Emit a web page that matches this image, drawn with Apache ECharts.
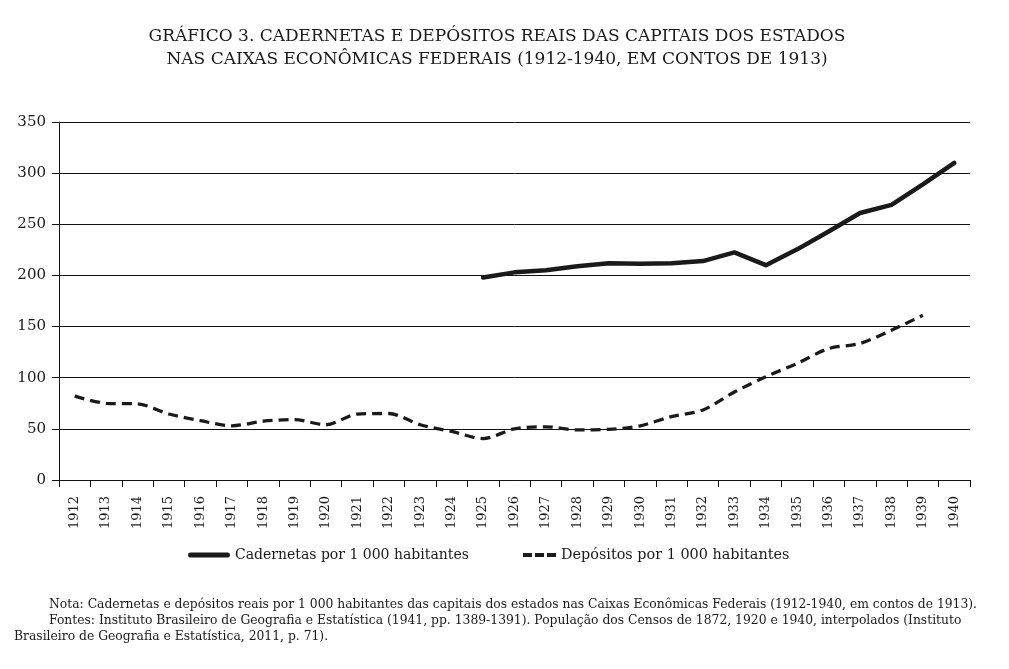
<!DOCTYPE html>
<html>
<head>
<meta charset="utf-8">
<script src="https://cdn.jsdelivr.net/npm/echarts@6/dist/echarts.min.js"></script>
<style>
html,body{margin:0;padding:0;background:#fff;}
#c{width:1009px;height:669px;}
</style>
</head>
<body>
<div id="c"></div>
<script>
var years = ['1912','1913','1914','1915','1916','1917','1918','1919','1920','1921','1922','1923','1924','1925','1926','1927','1928','1929','1930','1931','1932','1933','1934','1935','1936','1937','1938','1939','1940'];
var cadernetas = [null,null,null,null,null,null,null,null,null,null,null,null,null,198,203,205,209,212,211.5,212,214,222.5,210,225.5,243,261,269,289,310];
var depositos = [82,75,74.5,64.5,58,53,57.5,59,54,64.5,65,54,47.5,40.5,50,52,49,49.5,53,62,68.5,86,101,114,128.5,133.5,146.5,161,null];
var yTicks = {min:0, max:350, interval:50};
var titleLines = ['GRÁFICO 3. CADERNETAS E DEPÓSITOS REAIS DAS CAPITAIS DOS ESTADOS','NAS CAIXAS ECONÔMICAS FEDERAIS (1912-1940, EM CONTOS DE 1913)'];
var noteLines = [
 'Nota: Cadernetas e depósitos reais por 1 000 habitantes das capitais dos estados nas Caixas Econômicas Federais (1912-1940, em contos de 1913).',
 'Fontes: Instituto Brasileiro de Geografia e Estatística (1941, pp. 1389-1391). População dos Censos de 1872, 1920 e 1940, interpolados (Instituto',
 'Brasileiro de Geografia e Estatística, 2011, p. 71).'
];
var seriesNames = ['Cadernetas por 1 000 habitantes','Depósitos por 1 000 habitantes'];

var serif = '"DejaVu Serif", "Liberation Serif", serif';
var ink = '#1a1a1a';
var legendText = {fontFamily:serif,fontSize:14,color:'#1a1a1a'};
var chart = echarts.init(document.getElementById('c'));
chart.setOption({
  backgroundColor:'#fff',
  animation:false,
  grid:{left:59,right:39,top:122,bottom:189},
  graphic:[
    {type:'text',x:497,y:25,style:{text:titleLines[0]+'\n'+titleLines[1],font:'17px '+serif,fill:'#1a1a1a',align:'center',textAlign:'center',lineHeight:23}},
    {type:'text',left:49,top:599,style:{text:noteLines[0],font:'12.35px '+serif,fill:'#1a1a1a'}},
    {type:'text',left:49,top:615,style:{text:noteLines[1],font:'12.35px '+serif,fill:'#1a1a1a'}},
    {type:'text',left:14,top:631,style:{text:noteLines[2],font:'12.35px '+serif,fill:'#1a1a1a'}}
  ],
  legend:[
    {top:543,left:183,itemWidth:42,itemHeight:5,itemGap:0,symbolKeepAspect:false,textStyle:legendText,
     data:[{name:seriesNames[0],icon:'path://M2,0 H40 A2,2 0 0 1 40,4 H2 A2,2 0 0 1 2,0 Z'}]},
    {top:543,left:518,itemWidth:33,itemHeight:4,itemGap:0,symbolKeepAspect:false,textStyle:{fontFamily:serif,fontSize:14.4,color:'#1a1a1a'},
     data:[{name:seriesNames[1],icon:'path://M0,0 H9 V4 H0 Z M12,0 H21 V4 H12 Z M24,0 H33 V4 H24 Z'}]}
  ],
  xAxis:{
    type:'category',data:years,boundaryGap:true,
    axisLine:{lineStyle:{color:'#111',width:1}},
    axisTick:{show:true,interval:0,length:7,lineStyle:{color:'#111'}},
    axisLabel:{interval:0,rotate:90,margin:16,fontFamily:serif,fontSize:13,color:'#1a1a1a'}
  },
  yAxis:{
    type:'value',min:yTicks.min,max:yTicks.max,interval:yTicks.interval,
    axisLine:{show:true,lineStyle:{color:'#111',width:1}},
    axisTick:{show:true,length:7,lineStyle:{color:'#111'}},
    axisLabel:{margin:13,fontFamily:serif,fontSize:15,color:'#1a1a1a'},
    splitLine:{lineStyle:{color:'#111',width:1}}
  },
  series:[
    {name:seriesNames[0],type:'line',data:cadernetas,showSymbol:false,symbol:'none',
     lineStyle:{color:ink,width:4.5,cap:'round',join:'round'},itemStyle:{color:ink}},
    {name:seriesNames[1],type:'line',data:depositos,showSymbol:false,symbol:'none',smooth:0.3,
     lineStyle:{color:ink,width:3.3,type:[10,6]},itemStyle:{color:ink}}
  ]
});
</script>
</body>
</html>
